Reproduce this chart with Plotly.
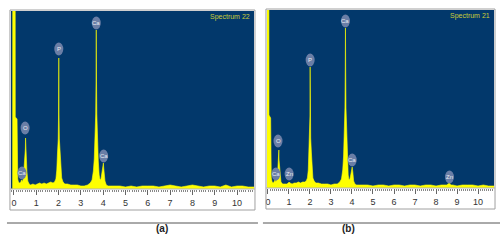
import plotly.graph_objects as go

W, H = 500, 246

# ---------------- data (relative counts) ----------------
tail_e = [4.5, 4.75, 5.0, 5.25, 5.5, 5.75, 6.0, 6.25, 6.5, 6.75, 7.0, 7.25, 7.5,
          7.75, 8.0, 8.25, 8.5, 8.75, 9.0, 9.25, 9.5, 9.75, 10.0, 10.25, 10.5, 10.8]

energy_a = [-0.15, -0.06, -0.05, 0.05, 0.06, 0.14, 0.17, 0.20, 0.26, 0.31, 0.34, 0.37,
            0.42, 0.46, 0.49, 0.51, 0.52, 0.53, 0.55, 0.58, 0.62, 0.68, 0.75, 0.85, 0.95, 1.05,
            1.15, 1.25, 1.35, 1.45, 1.55, 1.65, 1.75, 1.82, 1.88, 1.92, 1.95, 1.985,
            2.0, 2.01, 2.02, 2.035, 2.07, 2.10, 2.14, 2.20, 2.28, 2.40, 2.55, 2.70, 2.85, 3.00,
            3.15, 3.30, 3.42, 3.50, 3.56, 3.60, 3.63, 3.665, 3.68, 3.69, 3.70, 3.715, 3.75, 3.78,
            3.82, 3.86, 3.90, 3.94, 3.98, 4.0, 4.01, 4.02, 4.04, 4.08, 4.14, 4.22, 4.35] + tail_e
counts_a = [0, 0, 400, 400, 72, 70, 10, 7, 6, 7, 9, 7,
            10, 20, 31, 40, 51, 40, 30, 18, 8, 5, 4, 5, 4, 5,
            6, 5, 6, 5, 6, 7, 6, 7, 10, 19, 35, 50,
            75, 131, 75, 50, 38, 20, 11, 7, 5, 5, 4, 4, 4, 3,
            3, 4, 6, 9, 18, 30, 45, 75, 110, 159, 110, 75, 45, 28,
            14, 9, 10, 15, 19, 22, 26, 22, 18, 8, 4, 3, 3] + \
           [3, 3, 2, 3, 2, 3, 3, 3, 2, 3, 4, 3, 2, 3, 4, 3, 2, 3, 3, 2, 4, 2, 3, 3, 2, 2]

energy_b = [-0.10, 0.04, 0.05, 0.13, 0.16, 0.20, 0.26, 0.31, 0.34, 0.37, 0.42, 0.46,
            0.49, 0.51, 0.52, 0.53, 0.55, 0.58, 0.62, 0.70, 0.80, 0.90, 0.97, 1.01, 1.05, 1.15,
            1.25, 1.35, 1.45, 1.55, 1.65, 1.75, 1.82, 1.88, 1.92, 1.95, 1.985, 2.0, 2.01,
            2.02, 2.035, 2.07, 2.10, 2.14, 2.20, 2.28, 2.40, 2.55, 2.70, 2.85, 3.00, 3.15,
            3.30, 3.42, 3.50, 3.56, 3.60, 3.63, 3.665, 3.68, 3.69, 3.70, 3.715, 3.75, 3.78, 3.82,
            3.86, 3.90, 3.94, 3.98, 4.0, 4.01, 4.02, 4.04, 4.08, 4.14, 4.22, 4.35, 4.5, 4.75,
            5.0, 5.25, 5.5, 5.75, 6.0, 6.25, 6.5, 6.75, 7.0, 7.25, 7.5, 7.75, 8.0,
            8.25, 8.5, 8.58, 8.64, 8.70, 8.8, 9.0, 9.25, 9.5, 9.75, 10.0, 10.25, 10.5, 10.8]
counts_b = [400, 400, 73, 70, 10, 6, 5, 7, 8, 6, 8, 14,
            22, 28, 38, 28, 20, 12, 6, 4, 4, 4, 5, 6, 5, 4,
            5, 5, 6, 5, 6, 6, 7, 10, 18, 32, 50, 72, 121,
            72, 50, 35, 18, 10, 7, 5, 5, 4, 4, 4, 3, 4,
            4, 6, 9, 18, 32, 50, 80, 120, 160, 120, 80, 50, 28, 13,
            8, 9, 13, 17, 19, 21, 19, 16, 7, 4, 3, 3, 3, 3,
            2, 3, 3, 2, 3, 3, 2, 3, 3, 2, 3, 3, 2,
            3, 3, 4, 5, 3, 3, 2, 3, 3, 3, 2, 3, 2, 2]

labels_a = ["Ca", "O", "P", "Ca", "Ca"]
label_e_a = [0.36, 0.50, 2.01, 3.69, 4.02]
label_h_a = [16, 61, 140, 166, 33]

labels_b = ["Ca", "Zn", "O", "P", "Ca", "Ca", "Zn"]
label_e_b = [0.38, 1.01, 0.48, 2.01, 3.69, 4.01, 8.64]
label_h_b = [14, 14, 47, 128, 167, 28, 11]

tick_vals = list(range(0, 11))
tick_text = [str(v) for v in tick_vals]
titles = ["Spectrum 22", "Spectrum 21"]
captions = ["(a)", "(b)"]

# ---------------- layout helpers ----------------
def px(x):
    return x / W

def py(y):
    return 1 - y / H

BLUE = "#02386b"
YEL = "#ffff00"

fig = go.Figure()
fig.add_trace(go.Scatter(x=energy_a, y=counts_a, mode="lines", fill="tozeroy",
                         fillcolor=YEL, line=dict(color=YEL, width=0.6),
                         xaxis="x", yaxis="y", hoverinfo="skip"))
fig.add_trace(go.Scatter(x=energy_b, y=counts_b, mode="lines", fill="tozeroy",
                         fillcolor=YEL, line=dict(color=YEL, width=0.6),
                         xaxis="x2", yaxis="y2", hoverinfo="skip"))

panels = [
    dict(xd=(9, 253), yd=(11, 189), frame=(8, 10, 254, 210), xr=(-0.134, 10.76)),
    dict(xd=(266, 494), yd=(10, 188), frame=(265, 9, 495, 209), xr=(-0.047, 10.76)),
]

axis_common = dict(showgrid=False, zeroline=False, showline=False,
                   ticks="outside", ticklen=5, tickcolor="#666", tickwidth=1,
                   tickvals=tick_vals, ticktext=tick_text,
                   tickfont=dict(family="Liberation Sans, Arial", size=9, color="#333"),
                   minor=dict(dtick=0.1, tick0=0, ticks="outside", ticklen=2,
                              tickcolor="#888", tickwidth=1),
                   fixedrange=True)

for i, p in enumerate(panels):
    sfx = "" if i == 0 else str(i + 1)
    fig.layout["xaxis" + sfx] = dict(domain=[px(p["xd"][0]), px(p["xd"][1])],
                                     range=list(p["xr"]), anchor="y" + sfx,
                                     **axis_common)
    fig.layout["yaxis" + sfx] = dict(domain=[py(p["yd"][1]), py(p["yd"][0])],
                                     range=[0, 178], anchor="x" + sfx,
                                     visible=False, fixedrange=True)

shapes = []
annotations = []

for i, p in enumerate(panels):
    x0, y0, x1, y1 = p["frame"]
    shapes.append(dict(type="rect", xref="paper", yref="paper",
                       x0=px(x0), x1=px(x1), y0=py(y1), y1=py(y0),
                       line=dict(color="#a0a0a0", width=1), layer="above"))
    shapes.append(dict(type="line", xref="paper", yref="paper",
                       x0=px(x0), x1=px(x1), y0=py(p["yd"][1]), y1=py(p["yd"][1]),
                       line=dict(color="#b0b0b0", width=1), layer="above"))
    annotations.append(dict(xref="paper", yref="paper", x=px(p["xd"][1] - 2),
                            y=py(p["yd"][0] + 6), text=titles[i], showarrow=False,
                            xanchor="right", yanchor="middle",
                            font=dict(family="Liberation Sans, Arial", size=7,
                                      color="#c8cc3a")))

# bottom separator lines
shapes.append(dict(type="line", xref="paper", yref="paper", x0=px(5), x1=px(257),
                   y0=py(223), y1=py(223), line=dict(color="#555", width=1)))
shapes.append(dict(type="line", xref="paper", yref="paper", x0=px(262), x1=px(500),
                   y0=py(223), y1=py(223), line=dict(color="#555", width=1)))
for cx, cap in zip([153, 356], captions):
    annotations.append(dict(xref="paper", yref="paper", x=px(cx), y=py(236),
                            text="<b>" + cap + "</b>", showarrow=False,
                            font=dict(family="Liberation Sans, Arial", size=10,
                                      color="#222")))

# peak labels
for sfx, labs, le, lh in [("", labels_a, label_e_a, label_h_a),
                          ("2", labels_b, label_e_b, label_h_b)]:
    for t, e, h in zip(labs, le, lh):
        shapes.append(dict(type="circle", xref="x" + sfx, yref="y" + sfx,
                           xsizemode="pixel", ysizemode="pixel",
                           xanchor=e, yanchor=h, x0=-4.5, x1=4.5, y0=-6.5, y1=6.5,
                           fillcolor="#6a7ea6", line=dict(width=0), layer="above"))
        annotations.append(dict(xref="x" + sfx, yref="y" + sfx, x=e, y=h, text=t,
                                showarrow=False,
                                font=dict(family="Liberation Sans, Arial", size=6,
                                          color="#e8ecf4")))

fig.update_layout(width=W, height=H, margin=dict(l=0, r=0, t=0, b=0),
                  paper_bgcolor="white", plot_bgcolor=BLUE, showlegend=False,
                  shapes=shapes, annotations=annotations)

fig.write_html("out.html", config={"displayModeBar": False},
               post_script="document.body.style.margin='0';document.body.style.overflow='hidden';")
